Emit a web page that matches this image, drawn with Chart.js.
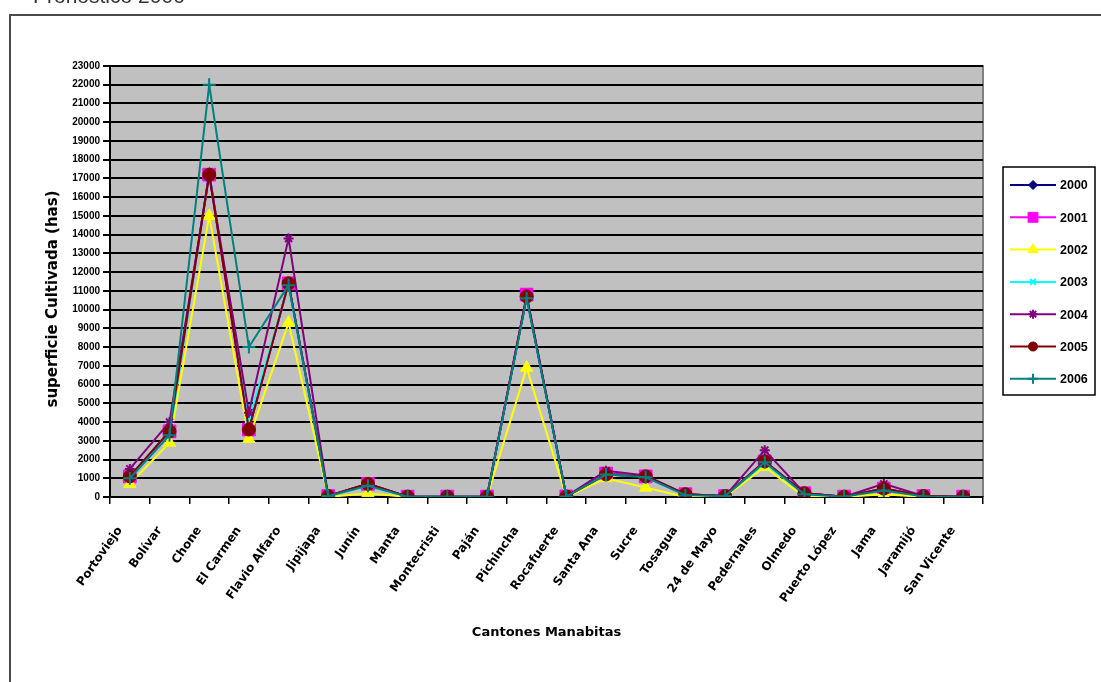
<!DOCTYPE html>
<html>
<head>
<meta charset="utf-8">
<title>Pronóstico 2006</title>
<script src="https://cdn.jsdelivr.net/npm/chart.js@4/dist/chart.umd.min.js"></script>
<style>
  html, body { margin: 0; padding: 0; background: #fff; overflow: hidden; }
  #wrap { position: relative; width: 1101px; height: 682px; }
</style>
</head>
<body>
<div id="wrap"><canvas id="c" width="1101" height="682"></canvas></div>
<script>
// Cantones de Manabí
const cantones = ['Portoviejo', 'Bolívar', 'Chone', 'El Carmen', 'Flavio Alfaro', 'Jipijapa', 'Junín', 'Manta',
  'Montecristi', 'Paján', 'Pichincha', 'Rocafuerte', 'Santa Ana', 'Sucre', 'Tosagua', '24 de Mayo',
  'Pedernales', 'Olmedo', 'Puerto López', 'Jama', 'Jaramijó', 'San Vicente'];

// Superficie cultivada (has) por año
const sup2000 = [1100, 3500, 17300, 3700, 11400, 50, 700, 20, 20, 20, 10700, 30, 1250, 1100, 150, 50, 1900, 200, 20, 450, 50, 20];
const sup2001 = [1100, 3500, 17200, 3600, 11400, 50, 700, 20, 20, 20, 10800, 30, 1250, 1100, 150, 50, 1900, 200, 20, 450, 50, 20];
const sup2002 = [700, 2900, 15000, 3100, 9300, 0, 200, 0, 0, 0, 6900, 0, 1000, 500, 0, 0, 1600, 0, 0, 150, 0, 0];
const sup2003 = [1000, 3300, 17200, 4100, 11300, 50, 600, 20, 20, 20, 10600, 30, 1200, 1100, 100, 50, 1800, 150, 20, 400, 30, 20];
const sup2004 = [1500, 4000, 17200, 4500, 13800, 50, 700, 20, 20, 20, 10700, 30, 1400, 1150, 150, 50, 2500, 200, 20, 700, 50, 20];
const sup2005 = [1100, 3500, 17200, 3600, 11400, 50, 700, 20, 20, 20, 10700, 30, 1200, 1100, 150, 50, 1900, 200, 20, 450, 50, 20];
const sup2006 = [1000, 3300, 22000, 8000, 11300, 50, 600, 20, 20, 20, 10600, 30, 1200, 1050, 100, 50, 1850, 150, 20, 350, 30, 20];

const anios = ['2000', '2001', '2002', '2003', '2004', '2005', '2006'];
const yMax = 23000;
const yStep = 1000;

const titulo = 'Pronóstico 2006';
const tituloX = 'Cantones Manabitas';
const tituloY = 'superficie Cultivada (has)';

// series styling (Excel-like palette and markers)
const estilos = [
  { color: '#000080', style: 'rectRot',  r: 4.5, lr: 4.5 },
  { color: '#FF00FF', style: 'rect',     r: 9,   lr: 7 },
  { color: '#FFFF00', style: 'triangle', r: 7,   lr: 6 },
  { color: '#00FFFF', style: 'crossRot', r: 4,   lr: 4 },
  { color: '#800080', style: 'star',     r: 5,   lr: 4.5 },
  { color: '#800000', style: 'circle',   r: 6.5, lr: 4.5 },
  { color: '#008080', style: 'cross',    r: 6.5, lr: 5 }
];
const series = [sup2000, sup2001, sup2002, sup2003, sup2004, sup2005, sup2006];

const esTrazo = s => s === 'cross' || s === 'crossRot' || s === 'star';

const datasets = series.map((vals, i) => ({
  label: anios[i],
  data: vals,
  borderColor: estilos[i].color,
  backgroundColor: estilos[i].color,
  borderWidth: 2,
  pointStyle: estilos[i].style,
  pointRadius: estilos[i].r,
  pointBackgroundColor: estilos[i].color,
  pointBorderColor: estilos[i].color,
  pointBorderWidth: esTrazo(estilos[i].style) ? 2 : 1,
  tension: 0,
  order: series.length - 1 - i
}));

const plotArea = {
  left: 110, right: 983, top: 66, bottom: 497
};

const decor = {
  id: 'decor',
  beforeDraw(chart) {
    const ctx = chart.ctx;
    const a = chart.chartArea;
    ctx.save();
    // title, partly above the page edge
    ctx.fillStyle = '#333';
    ctx.font = "21px 'Liberation Sans', Arial, sans-serif";
    ctx.textBaseline = 'alphabetic';
    ctx.textAlign = 'left';
    ctx.fillText(titulo, 33, 3);
    // outer frame
    ctx.strokeStyle = '#4a4a4a';
    ctx.lineWidth = 2;
    ctx.strokeRect(10, 15, 1400, 900);
    // plot background
    ctx.fillStyle = '#C0C0C0';
    ctx.fillRect(a.left, a.top, a.right - a.left, a.bottom - a.top);
    ctx.strokeStyle = '#808080';
    ctx.lineWidth = 2;
    ctx.beginPath();
    ctx.moveTo(a.left, a.top);
    ctx.lineTo(a.right, a.top);
    ctx.lineTo(a.right, a.bottom);
    ctx.stroke();
    ctx.restore();
  },
  afterDraw(chart) {
    const ctx = chart.ctx;
    const a = chart.chartArea;
    ctx.save();
    ctx.fillStyle = '#000';
    // axis titles
    ctx.font = "bold 13px 'DejaVu Sans', sans-serif";
    ctx.textAlign = 'center';
    ctx.textBaseline = 'middle';
    ctx.fillText(tituloX, (a.left + a.right) / 2, 633);
    ctx.save();
    ctx.translate(53, 299);
    ctx.rotate(-Math.PI / 2);
    ctx.font = "bold 15px 'DejaVu Sans', sans-serif";
    ctx.fillText(tituloY, 0, 0);
    ctx.restore();

    // legend
    const lx = 1003, ly = 167, lw = 92, lh = 228;
    ctx.fillStyle = '#fff';
    ctx.fillRect(lx, ly, lw, lh);
    ctx.strokeStyle = '#000';
    ctx.lineWidth = 1.5;
    ctx.strokeRect(lx, ly, lw, lh);
    ctx.font = "bold 12.5px 'Liberation Sans', Arial, sans-serif";
    ctx.textAlign = 'left';
    ctx.textBaseline = 'middle';
    anios.forEach((anio, i) => {
      const y = 185 + i * 32.3;
      const st = estilos[i];
      ctx.strokeStyle = st.color;
      ctx.fillStyle = st.color;
      ctx.lineWidth = 2;
      ctx.beginPath();
      ctx.moveTo(1010, y);
      ctx.lineTo(1056, y);
      ctx.stroke();
      ctx.lineWidth = esTrazo(st.style) ? 2 : 1;
      Chart.helpers.drawPoint(ctx, { pointStyle: st.style, radius: st.lr, rotation: 0, borderWidth: ctx.lineWidth }, 1033, y);
      ctx.fillStyle = '#000';
      ctx.fillText(anio, 1060, y + 1);
    });
    ctx.restore();
  }
};

new Chart(document.getElementById('c'), {
  type: 'line',
  data: { labels: cantones, datasets },
  options: {
    responsive: false,
    animation: false,
    events: [],
    layout: { padding: { left: 0, top: plotArea.top, right: 1101 - plotArea.right, bottom: 0 } },
    plugins: {
      legend: { display: false },
      tooltip: { enabled: false },
      title: { display: false }
    },
    scales: {
      x: {
        type: 'category',
        offset: true,
        afterFit(scale) { scale.height = 682 - plotArea.bottom; },
        grid: {
          offset: true,
          drawOnChartArea: false,
          drawTicks: true,
          tickLength: 7,
          color: '#000',
          lineWidth: 1.5
        },
        border: { display: true, color: '#000', width: 2 },
        ticks: {
          autoSkip: false,
          minRotation: 55,
          maxRotation: 55,
          padding: 20,
          labelOffset: -10,
          color: '#000',
          font: { family: "'DejaVu Sans', sans-serif", size: 12, weight: 'bold' }
        }
      },
      y: {
        min: 0,
        max: yMax,
        afterFit(scale) { scale.width = plotArea.left; },
        grid: {
          color: '#000',
          lineWidth: 2,
          drawTicks: true,
          tickLength: 7
        },
        border: { display: true, color: '#000', width: 2 },
        ticks: {
          stepSize: yStep,
          padding: 3,
          color: '#000',
          callback: v => String(v),
          font: { family: "'Liberation Sans', Arial, sans-serif", size: 10, weight: 'bold' }
        }
      }
    }
  },
  plugins: [decor]
});
</script>
</body>
</html>
